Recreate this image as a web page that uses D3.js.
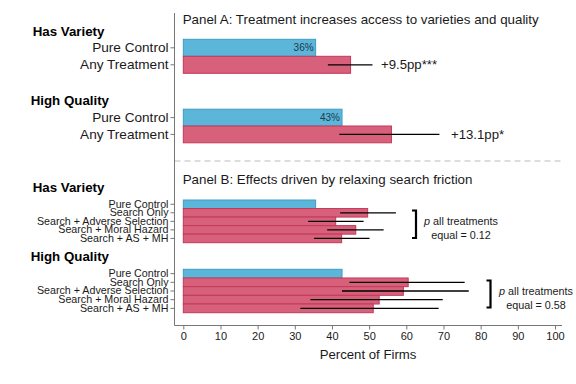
<!DOCTYPE html>
<html><head><meta charset="utf-8">
<script src="https://cdn.jsdelivr.net/npm/d3@7"></script>
<style>
html,body{margin:0;padding:0;background:#fff;}
svg{display:block;font-family:"Liberation Sans",Arial,Helvetica,sans-serif;}
</style></head>
<body><svg id="c" width="576" height="384"></svg>
<script>
// ---- data ----
const panelACategories = ["Pure Control", "Any Treatment"];
const panelAVariety = [35.6, 45.0];
const panelAVarietyLo = [null, 38.9];
const panelAVarietyHi = [null, 50.9];
const panelAQuality = [42.7, 56.0];
const panelAQualityLo = [null, 42.0];
const panelAQualityHi = [null, 68.9];
const panelAControlLabels = ["36%", "43%"];
const panelAEffectLabels = ["+9.5pp***", "+13.1pp*"];

const panelBCategories = ["Pure Control", "Search Only", "Search + Adverse Selection", "Search + Moral Hazard", "Search + AS + MH"];
const panelBVariety = [35.6, 49.6, 41.0, 46.4, 42.6];
const panelBVarietyLo = [null, 42.2, 33.6, 38.7, 35.2];
const panelBVarietyHi = [null, 57.2, 48.5, 53.9, 50.1];
const panelBQuality = [42.7, 60.5, 59.2, 52.7, 51.1];
const panelBQualityLo = [null, 44.7, 42.7, 34.2, 31.5];
const panelBQualityHi = [null, 75.7, 76.8, 69.8, 68.7];
const panelBPValues = ["0.12", "0.58"];

const xTicks = [0,10,20,30,40,50,60,70,80,90,100];
const groupTitles = ["Has Variety", "High Quality"];
const panelTitles = ["Panel A: Treatment increases access to varieties and quality", "Panel B: Effects driven by relaxing search friction"];
const xAxisTitle = "Percent of Firms";

// ---- drawing ----
const svg = d3.select("#c");
const BLUE = "#5cb6da", BLUE_S = "#3d9dc3", RED = "#d7607b", RED_S = "#c4385c";
const AXC = "#777", TXT = "#1a1a1a";
const x = d3.scaleLinear().domain([0,100]).range([183.3,555]);
const axisLeftX = 174.5, axisBottomY = 325.5;

function section(cats, vals, lo, hi, y0, y1, labelSize) {
  const y = d3.scaleBand().domain(cats).range([y0,y1]).paddingInner(0);
  const g = svg.append("g");
  g.selectAll("rect").data(cats).join("rect")
    .attr("x", x(0)).attr("y", d => y(d))
    .attr("width", (d,i) => x(vals[i]) - x(0)).attr("height", y.bandwidth())
    .attr("fill", (d,i) => i === 0 ? BLUE : RED)
    .attr("stroke", (d,i) => i === 0 ? BLUE_S : RED_S).attr("stroke-width", 1);
  g.selectAll("line.err").data(cats.filter((d,i)=>lo[i]!=null)).join("line")
    .attr("class","err")
    .attr("x1", d => x(lo[cats.indexOf(d)])).attr("x2", d => x(hi[cats.indexOf(d)]))
    .attr("y1", d => y(d)+y.bandwidth()/2).attr("y2", d => y(d)+y.bandwidth()/2)
    .attr("stroke","#000").attr("stroke-width",1.3);
  const ax = svg.append("g").attr("transform", `translate(${axisLeftX},0)`)
    .call(d3.axisLeft(y).tickSize(4).tickPadding(2));
  ax.select(".domain").remove();
  ax.selectAll(".tick line").attr("stroke", AXC);
  ax.selectAll(".tick text").attr("font-size", labelSize).attr("fill", TXT)
    .attr("font-family", '"Liberation Sans",Arial,sans-serif');
  return y;
}

// Panel A
const yA1 = section(panelACategories, panelAVariety, panelAVarietyLo, panelAVarietyHi, 39.3, 73.3, "13.6px");
const yA2 = section(panelACategories, panelAQuality, panelAQualityLo, panelAQualityHi, 109.2, 142.8, "13.6px");
// Panel B
const yB1 = section(panelBCategories, panelBVariety, panelBVarietyLo, panelBVarietyHi, 200, 242.7, "10.7px");
const yB2 = section(panelBCategories, panelBQuality, panelBQualityLo, panelBQualityHi, 269.3, 312.7, "10.7px");

// control value labels in panel A
[[yA1, panelAVariety, 0], [yA2, panelAQuality, 1]].forEach(([y, v, k]) => {
  svg.append("text").attr("x", x(v[0]) - 2).attr("y", y(panelACategories[0]) + y.bandwidth()/2)
    .attr("dy","0.35em").attr("text-anchor","end").attr("font-size","10px").attr("fill","#1f3a4a")
    .text(panelAControlLabels[k]);
});
// effect labels
svg.append("text").attr("x", 381).attr("y", yA1(panelACategories[1]) + yA1.bandwidth()/2)
  .attr("dy","0.35em").attr("font-size","13.2px").attr("fill",TXT).text(panelAEffectLabels[0]);
svg.append("text").attr("x", 451).attr("y", yA2(panelACategories[1]) + yA2.bandwidth()/2)
  .attr("dy","0.35em").attr("font-size","13.2px").attr("fill",TXT).text(panelAEffectLabels[1]);

// group titles
[[31, 32.7],[100, 30.7],[187.7, 32.7],[256.7, 30.7]].forEach(([yy, xx], i) => {
  svg.append("text").attr("x", xx).attr("y", yy).attr("dy","0.35em")
    .attr("font-size","13.3px").attr("font-weight","bold").attr("fill","#000")
    .text(groupTitles[i % 2]);
});

// panel titles
svg.append("text").attr("x", 182.7).attr("y", 19).attr("dy","0.35em").attr("font-size","13.35px").attr("fill",TXT).text(panelTitles[0]);
svg.append("text").attr("x", 182.7).attr("y", 179).attr("dy","0.35em").attr("font-size","13.35px").attr("fill",TXT).text(panelTitles[1]);

// p-value brackets
function bracket(xr, yt, yb, tx, ty, pv) {
  svg.append("path").attr("d", `M${xr-4},${yt}H${xr}V${yb}H${xr-4}`)
    .attr("fill","none").attr("stroke","#000").attr("stroke-width",2.2);
  const t = svg.append("text").attr("x", tx).attr("y", ty).attr("dy","0.35em")
    .attr("text-anchor","middle").attr("font-size","10.8px").attr("fill",TXT);
  t.append("tspan").attr("font-style","italic").text("p");
  t.append("tspan").text(" all treatments");
  svg.append("text").attr("x", tx).attr("y", ty + 14).attr("dy","0.35em")
    .attr("text-anchor","middle").attr("font-size","10.8px").attr("fill",TXT).text("equal = " + pv);
}
bracket(416, 210.5, 238, 461, 221.7, panelBPValues[0]);
bracket(490.5, 280.5, 307.5, 536, 291.7, panelBPValues[1]);

// dashed separator
svg.append("line").attr("x1", axisLeftX).attr("x2", 563).attr("y1", 161).attr("y2", 161)
  .attr("stroke","#bbb").attr("stroke-width",1).attr("stroke-dasharray","6,4");

// left axis line
svg.append("line").attr("x1", axisLeftX).attr("x2", axisLeftX).attr("y1", 13).attr("y2", axisBottomY)
  .attr("stroke", AXC).attr("stroke-width", 1);

// bottom axis
const bx = svg.append("g").attr("transform", `translate(0,${axisBottomY})`)
  .call(d3.axisBottom(x).tickValues(xTicks).tickSize(4).tickPadding(3).tickSizeOuter(0));
bx.select(".domain").remove();
bx.selectAll(".tick line").attr("stroke", AXC);
bx.selectAll(".tick text").attr("font-size","11px").attr("fill",TXT)
  .attr("font-family", '"Liberation Sans",Arial,sans-serif');
svg.append("line").attr("x1", axisLeftX).attr("x2", 562).attr("y1", axisBottomY).attr("y2", axisBottomY)
  .attr("stroke", AXC).attr("stroke-width", 1);

svg.append("text").attr("x", 368).attr("y", 354.5).attr("dy","0.35em").attr("text-anchor","middle")
  .attr("font-size","13.2px").attr("fill",TXT).text(xAxisTitle);
</script></body></html>
